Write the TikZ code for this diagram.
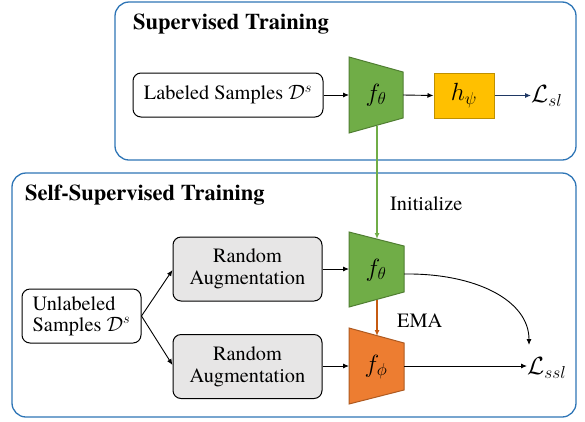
\documentclass[tikz,border=0pt]{standalone}
\usepackage{fontspec}
\setmainfont{TeX Gyre Termes}
\usetikzlibrary{arrows.meta}
\DeclareMathSizes{24.5}{24.5}{18}{14}
\DeclareMathSizes{23}{23}{16.5}{13}

\definecolor{framblue}{HTML}{2E75B6}
\definecolor{encgreen}{HTML}{70AD47}
\definecolor{encgreenline}{HTML}{507E32}
\definecolor{encorange}{HTML}{ED7D31}
\definecolor{encorangeline}{HTML}{AE5A21}
\definecolor{emaorange}{HTML}{C55A11}
\definecolor{headyellow}{HTML}{FFC000}
\definecolor{headyellowline}{HTML}{BF9000}
\definecolor{augray}{HTML}{E7E6E6}
\definecolor{lossblue}{HTML}{1F3864}

\begin{document}
\begin{tikzpicture}[x=1pt,y=-1pt,
  frame/.style={draw=framblue,line width=1.3pt,rounded corners=14pt},
  title/.style={font=\rmfamily\fontsize{22.5}{25}\selectfont\bfseries,anchor=west,inner sep=0pt},
  txt/.style={font=\rmfamily\fontsize{20.3}{23}\selectfont},
  databox/.style={draw=black,line width=1pt,rounded corners=8pt,fill=white,inner sep=0pt,
    font=\rmfamily\fontsize{20.3}{23}\selectfont},
  augbox/.style={databox,fill=augray,align=center},
  headbox/.style={draw=headyellowline,line width=1pt,fill=headyellow,inner sep=0pt,
    minimum width=60pt,minimum height=45pt,font=\fontsize{23}{25}\selectfont},
  enclabel/.style={inner sep=0pt,font=\fontsize{23}{25}\selectfont},
  loss/.style={inner sep=0pt,anchor=west,font=\fontsize{24.5}{27}\selectfont},
  arr/.style={line width=0.9pt,-{Latex[length=6pt,width=5pt]}},
]
\useasboundingbox (0,0) rectangle (585,421);

% outer frames
\draw[frame] (115,2) rectangle (576,160);
\draw[frame] (12,173) rectangle (576,417);
\node[title] (tsup) at (133,24) {Supervised Training};
\node[title] (tself) at (25,195) {Self-Supervised Training};

% ---------- supervised branch ----------
\node[databox,minimum width=190pt,minimum height=44pt] (lab) at (228,95)
  {Labeled Samples $\mathcal{D}^s$};
\draw[fill=encgreen,draw=encgreenline,line width=1pt]
  (349,57) -- (403,72) -- (403,118) -- (349,133) -- cycle;
\node[enclabel] (f1) at (376,95) {$f_\theta$};
\coordinate (f1W) at (349,95);
\coordinate (f1E) at (403,95);
\coordinate (f1S) at (377,126);
\node[headbox] (h) at (464,95.5) {$h_\psi$};
\node[loss] (lsl) at (531,96) {$\mathcal{L}_{sl}$};

\draw[arr] (lab.east) -- (f1W);
\draw[arr] (f1E) -- (h.west);
\draw[arr,draw=lossblue,-{Latex[length=6pt,width=5pt]}] (h.east) -- (lsl.west |- h.east);

% ---------- self-supervised branch ----------
\node[databox,align=left,minimum width=119pt,minimum height=54pt] (unl) at (81.5,316)
  {Unlabeled\\[-2pt]Samples $\mathcal{D}^s$};
\node[augbox,minimum width=149pt,minimum height=64pt] (aug1) at (247.5,269)
  {Random\\[-1pt]Augmentation};
\node[augbox,minimum width=149pt,minimum height=64pt] (aug2) at (247.5,366.5)
  {Random\\[-1pt]Augmentation};

% student encoder
\draw[fill=encgreen,draw=encgreenline,line width=1pt]
  (349,232) -- (404,246) -- (404,292) -- (349,307) -- cycle;
\node[enclabel] (f2) at (376,270) {$f_\theta$};
\coordinate (f2W) at (349,269);
\coordinate (f2E) at (404,274);
\coordinate (f2N) at (377,239);
\coordinate (f2S) at (377,300);

% teacher encoder
\draw[fill=encorange,draw=encorangeline,line width=1pt]
  (349,328) -- (404,343) -- (404,390) -- (349,404) -- cycle;
\node[enclabel] (f3) at (376,367) {$f_\phi$};
\coordinate (f3W) at (349,366);
\coordinate (f3E) at (404,366);
\coordinate (f3N) at (377,336);

\node[loss] (lssl) at (527,368) {$\mathcal{L}_{ssl}$};
\coordinate (lsslN) at (529,345);

\node[txt,anchor=west,inner sep=0pt] (init) at (390,204) {Initialize};
\node[txt,anchor=west,inner sep=0pt] (ema) at (397,321) {EMA};

\draw[arr] (unl.east) -- (aug1.west |- 0,270);
\draw[arr] (unl.east) -- (aug2.west |- 0,365);
\draw[arr] (aug1.east) -- (f2W);
\draw[arr] (aug2.east |- f3W) -- (f3W);

\draw[arr,draw=encgreen,line width=1.4pt,-{Latex[length=6pt,width=5pt]}] (f1S) -- (f2N);
\draw[arr,draw=emaorange,line width=1.4pt,-{Latex[length=6pt,width=5pt]}] (f2S) -- (f3N);

\draw[arr] (f2E) .. controls (475,273) and (529,300) .. (lsslN);
\draw[arr] (f3E) -- (lssl.west |- f3E);
\end{tikzpicture}
\end{document}
